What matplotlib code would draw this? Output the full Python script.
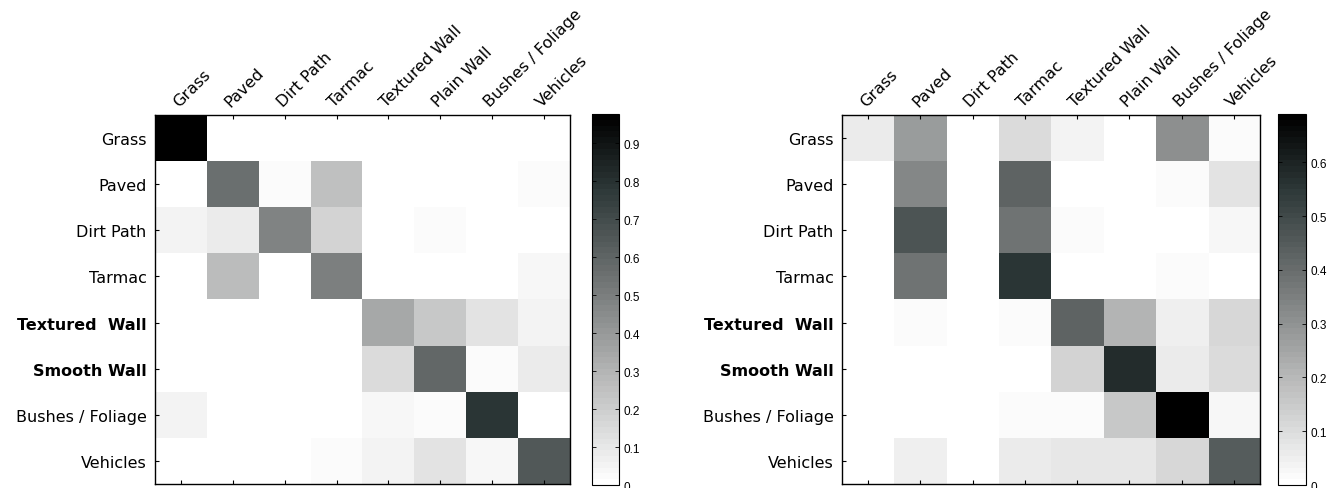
import numpy as np
import matplotlib
matplotlib.use("Agg")
import matplotlib.pyplot as plt
import matplotlib.transforms as mtransforms
from matplotlib.colors import LinearSegmentedColormap

col_labels = ["Grass", "Paved", "Dirt Path", "Tarmac", "Textured Wall", "Plain Wall",
              "Bushes / Foliage", "Vehicles"]
row_labels = ["Grass", "Paved", "Dirt Path", "Tarmac", "Textured  Wall", "Smooth Wall",
              "Bushes / Foliage", "Vehicles"]
bold_cols = ["Textured Wall", "Plain Wall"]
bold_rows = ["Textured  Wall", "Smooth Wall"]

left_values = [
    [0.97, 0.00, 0.00, 0.00, 0.00, 0.00, 0.00, 0.00],
    [0.00, 0.55, 0.02, 0.25, 0.00, 0.00, 0.00, 0.02],
    [0.05, 0.09, 0.48, 0.17, 0.00, 0.02, 0.00, 0.00],
    [0.00, 0.27, 0.015, 0.49, 0.00, 0.00, 0.00, 0.045],
    [0.00, 0.00, 0.015, 0.00, 0.35, 0.22, 0.12, 0.06],
    [0.00, 0.00, 0.00, 0.00, 0.15, 0.59, 0.025, 0.09],
    [0.05, 0.00, 0.00, 0.00, 0.045, 0.025, 0.79, 0.00],
    [0.00, 0.00, 0.00, 0.02, 0.055, 0.11, 0.04, 0.65],
]
right_values = [
    [0.06, 0.27, 0.00, 0.10, 0.043, 0.00, 0.31, 0.02],
    [0.00, 0.325, 0.00, 0.43, 0.00, 0.00, 0.02, 0.08],
    [0.00, 0.47, 0.00, 0.38, 0.02, 0.00, 0.00, 0.025],
    [0.00, 0.38, 0.00, 0.555, 0.00, 0.00, 0.015, 0.00],
    [0.00, 0.015, 0.00, 0.02, 0.43, 0.21, 0.05, 0.115],
    [0.00, 0.00, 0.00, 0.00, 0.125, 0.58, 0.055, 0.105],
    [0.00, 0.00, 0.00, 0.015, 0.02, 0.155, 0.69, 0.03],
    [0.00, 0.045, 0.00, 0.06, 0.075, 0.075, 0.115, 0.45],
]
left_vmax = 0.977
right_vmax = 0.69
left_cticks = [0, 0.1, 0.2, 0.3, 0.4, 0.5, 0.6, 0.7, 0.8, 0.9]
right_cticks = [0, 0.1, 0.2, 0.3, 0.4, 0.5, 0.6]

cmap = LinearSegmentedColormap.from_list(
    "wk",
    [(0.0, (1, 1, 1)),
     (0.3, (180/255, 181/255, 181/255)),
     (0.56, (110/255, 114/255, 114/255)),
     (0.8, (45/255, 56/255, 56/255)),
     (1.0, (0, 0, 0))], N=64)

fig = plt.figure(figsize=(13.42, 4.89), dpi=100)
plt.rcParams['font.family'] = ['DejaVu Sans']

def draw(ax_rect, cax_rect, values, vmax, cticks):
    ax = fig.add_axes(ax_rect)
    im = ax.imshow(np.array(values), cmap=cmap, vmin=0, vmax=vmax,
                   aspect='auto', interpolation='nearest')
    n = len(col_labels)
    ax.set_xticks(range(n))
    ax.set_yticks(range(len(row_labels)))
    ax.set_xticklabels(col_labels, rotation=45, ha='left', va='bottom',
                       rotation_mode='anchor', fontsize=11.5)
    ax.set_yticklabels(row_labels, fontsize=11.5)
    offset = mtransforms.ScaledTranslation(-20/100, 1/100, fig.dpi_scale_trans)
    for t in ax.get_xticklabels():
        t.set_transform(t.get_transform() + offset)
        if t.get_text() in bold_cols:
            t.set_fontweight('bold')
    for t in ax.get_yticklabels():
        if t.get_text() in bold_rows:
            t.set_fontweight('bold')
    ax.tick_params(axis='x', top=True, bottom=True, labeltop=True, labelbottom=False,
                   direction='in', length=3, width=0.8, pad=4)
    ax.tick_params(axis='y', left=True, right=False, direction='in', length=3,
                   width=0.8, pad=6)
    for s in ax.spines.values():
        s.set_linewidth(1.0)
    cax = fig.add_axes(cax_rect)
    cb = fig.colorbar(im, cax=cax, ticks=cticks)
    cb.ax.set_yticklabels(['0' if v == 0 else f"{v:.1f}" for v in cticks],
                          fontsize=8.5, family='Liberation Sans')
    cb.ax.tick_params(direction='in', left=True, right=True, length=3, width=0.6,
                      labelleft=False, labelright=True, pad=3)
    cb.outline.set_linewidth(0.8)
    return ax

draw([0.1155, 0.0082, 0.3092, 0.7546], [0.4411, 0.0061, 0.0201, 0.7587],
     left_values, left_vmax, left_cticks)
draw([0.6274, 0.0082, 0.3115, 0.7546], [0.9523, 0.0061, 0.0209, 0.7587],
     right_values, right_vmax, right_cticks)

fig.savefig("out.png", dpi=100)
